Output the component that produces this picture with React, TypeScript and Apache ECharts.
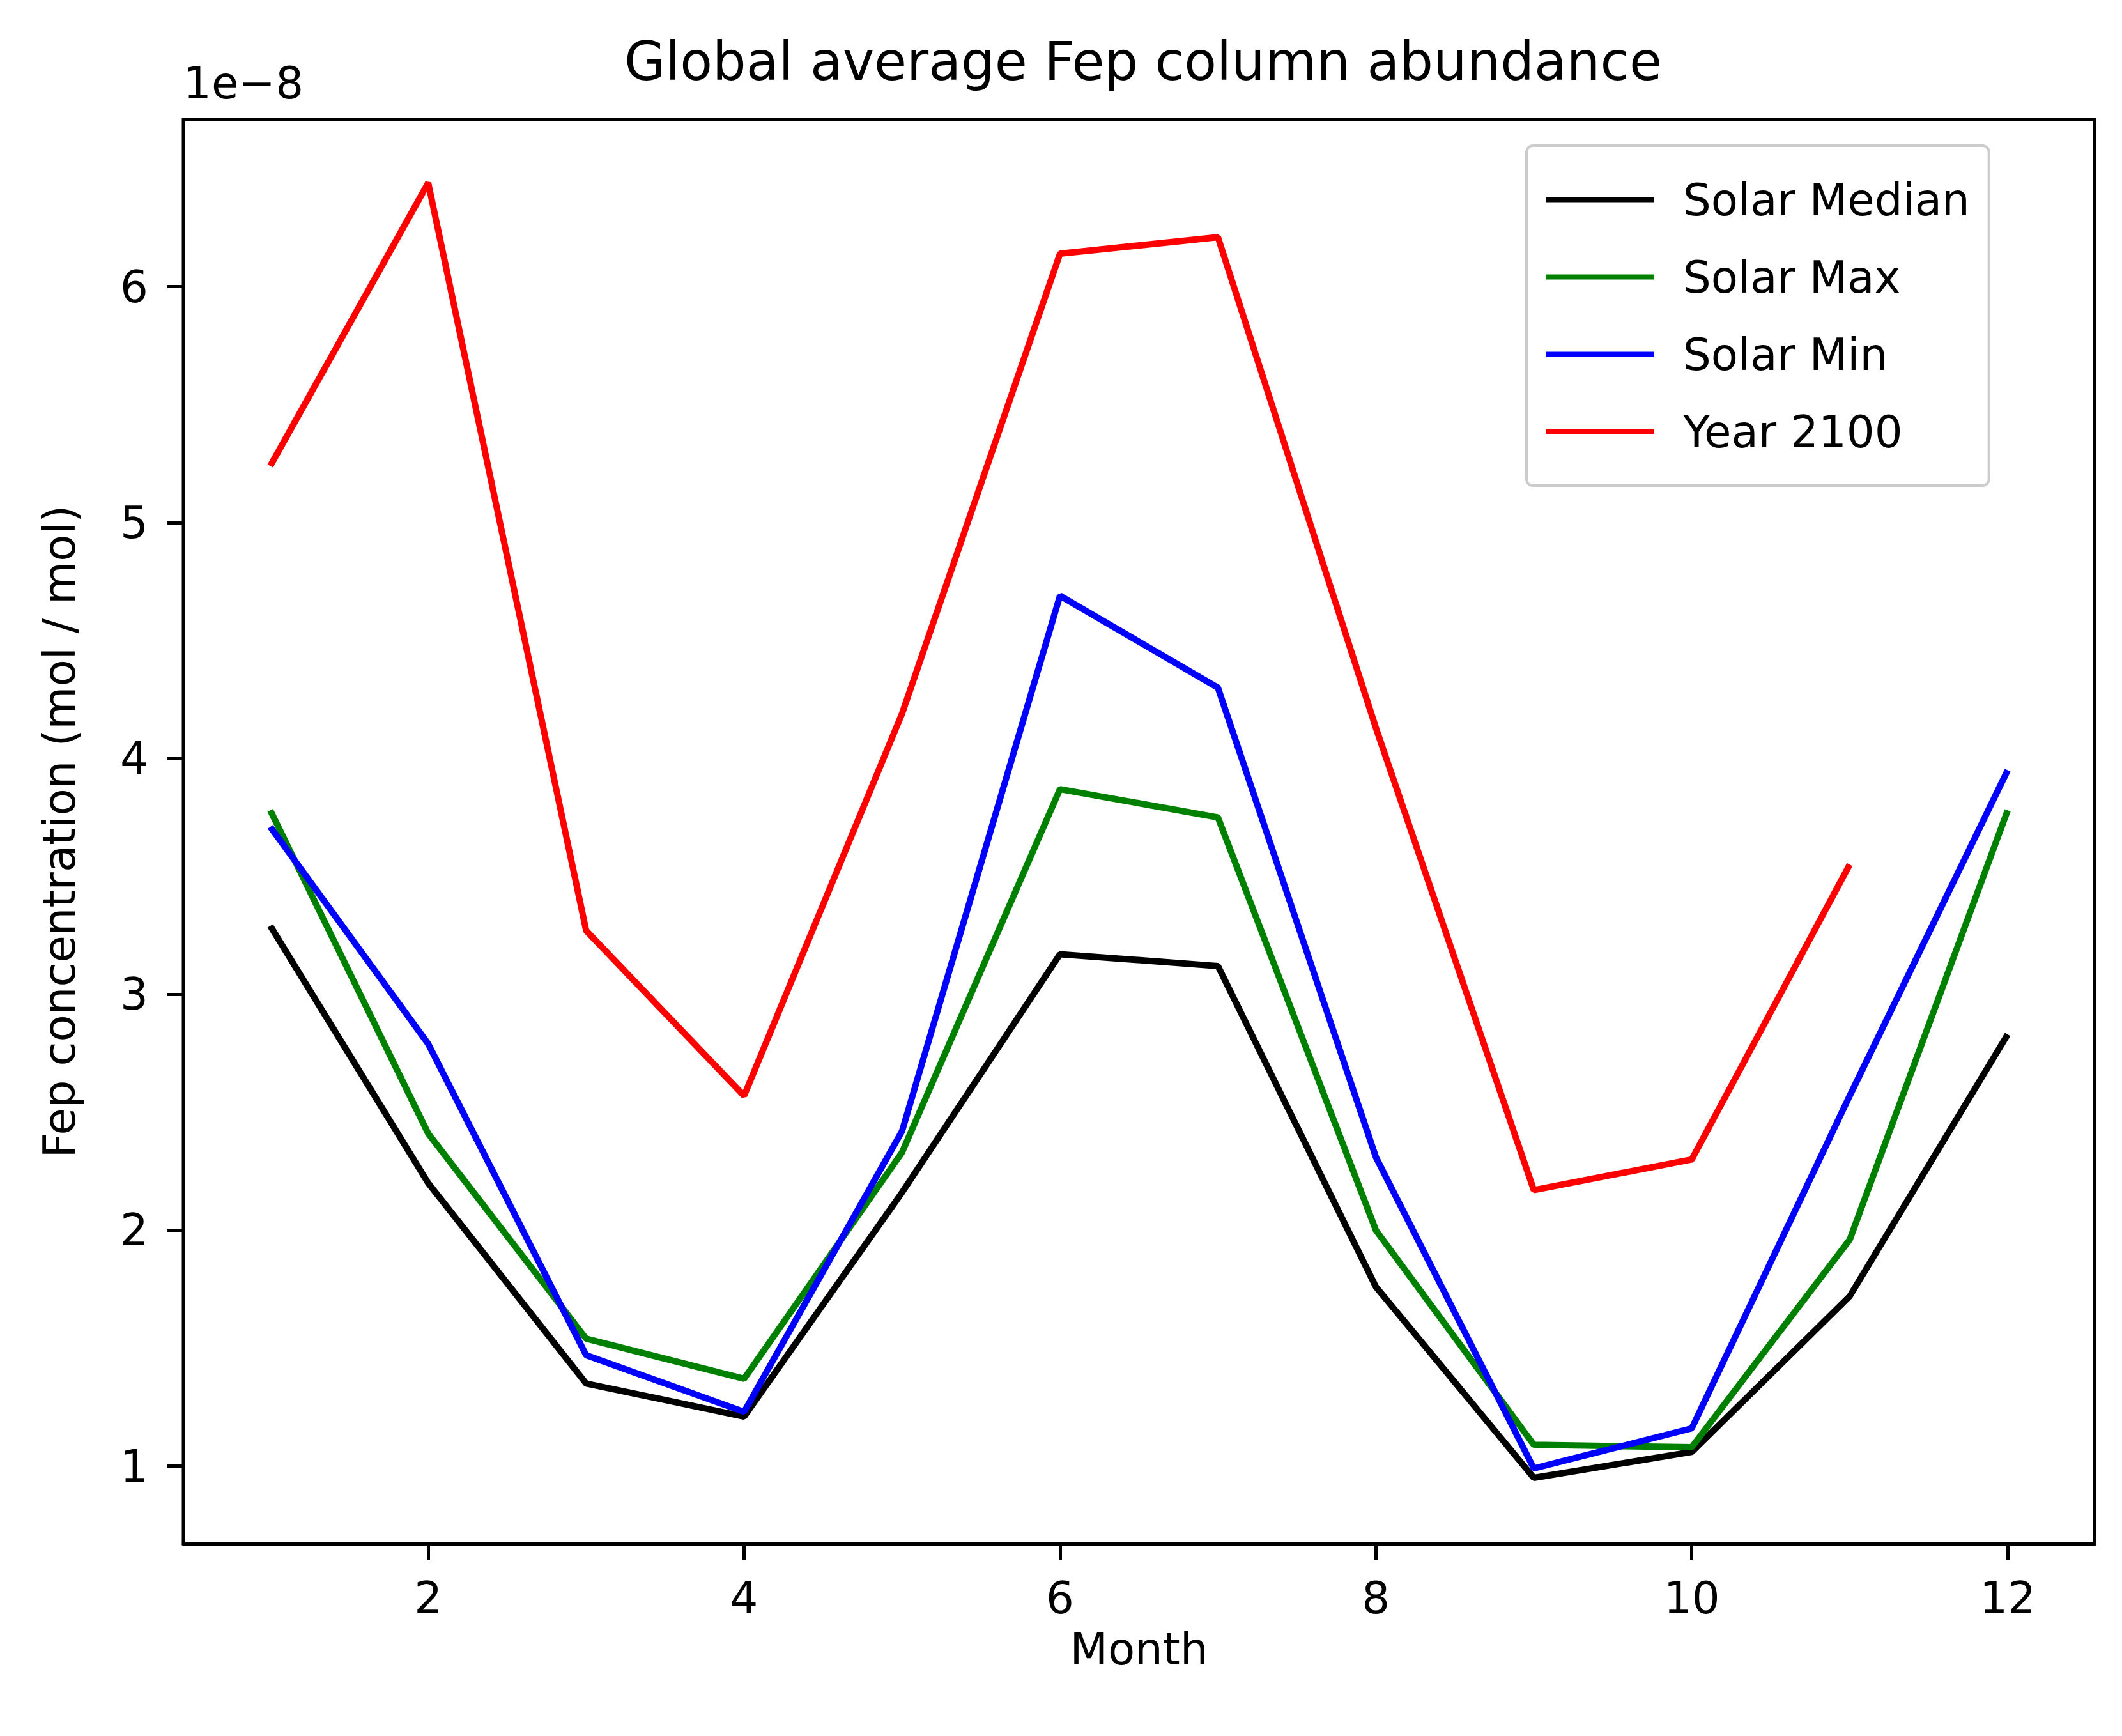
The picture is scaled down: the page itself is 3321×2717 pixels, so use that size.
import React, { useEffect, useRef } from "react";
import * as echarts from "echarts";

const months = [1, 2, 3, 4, 5, 6, 7, 8, 9, 10, 11, 12];
const solarMedian = [3.29, 2.2, 1.35, 1.21, 2.16, 3.17, 3.12, 1.76, 0.95, 1.06, 1.72, 2.83];
const solarMax = [3.78, 2.41, 1.54, 1.37, 2.33, 3.87, 3.75, 2.0, 1.09, 1.08, 1.96, 3.78];
const solarMin = [3.71, 2.79, 1.47, 1.23, 2.42, 4.69, 4.3, 2.31, 0.99, 1.16, 2.57, 3.95];
const year2100 = [5.24, 6.44, 3.27, 2.57, 4.19, 6.14, 6.21, 4.13, 2.17, 2.3, 3.55, null];
const xTicks = [2, 4, 6, 8, 10, 12];
const yTicks = [1, 2, 3, 4, 5, 6];

const font = "DejaVu Sans";

const App: React.FC = () => {
  const chartRef = useRef<HTMLDivElement>(null);

  useEffect(() => {
    document.body.style.margin = "0";
    if (!chartRef.current) return;
    const chart = echarts.init(chartRef.current, undefined, { renderer: "svg" });

    const mk = (name: string, vals: (number | null)[], color: string) => ({
      name,
      type: "line",
      data: months.map((m, i) => [m, vals[i]]),
      showSymbol: false,
      symbol: "none",
      lineStyle: { color, width: 10 },
      itemStyle: { color },
      connectNulls: false,
    });

    chart.setOption({
      animation: false,
      backgroundColor: "#fff",
      textStyle: { fontFamily: font },
      title: {
        text: "Global average Fep column abundance",
        left: 1784,
        top: 50,
        textAlign: "center",
        textStyle: { fontFamily: font, fontSize: 83, fontWeight: "normal", color: "#000" },
      },
      graphic: [
        {
          type: "text",
          left: 287,
          top: 95,
          style: { text: "1e\u22128", fontFamily: font, fontSize: 69, fill: "#000" },
        },
      ],
      grid: {
        left: 287,
        top: 187,
        width: 2991,
        height: 2229,
        show: true,
        borderColor: "#000",
        borderWidth: 5,
        containLabel: false,
      },
      legend: {
        orient: "vertical",
        left: 2389,
        top: 228,
        width: 847,
        padding: [50, 30, 50, 30],
        itemWidth: 170,
        itemHeight: 8,
        itemGap: 52,
        icon: "rect",
        borderColor: "#ccc",
        borderWidth: 4,
        borderRadius: 10,
        backgroundColor: "#fff",
        textStyle: { fontFamily: font, fontSize: 69, color: "#000", padding: [0, 0, 0, 40] },
        data: ["Solar Median", "Solar Max", "Solar Min", "Year 2100"],
      },
      xAxis: {
        type: "value",
        min: 0.45,
        max: 12.55,
        name: "Month",
        nameLocation: "middle",
        nameGap: 130,
        nameTextStyle: { fontFamily: font, fontSize: 69, color: "#000" },
        splitLine: { show: false },
        axisLine: { show: true, lineStyle: { color: "#000", width: 5 } },
        axisTick: { show: true, length: 25, lineStyle: { color: "#000", width: 5 }, customValues: xTicks },
        axisLabel: { margin: 50, fontFamily: font, fontSize: 69, color: "#000", customValues: xTicks },
      },
      yAxis: {
        type: "value",
        min: 0.671,
        max: 6.709,
        name: "Fep concentration (mol / mol)",
        nameLocation: "middle",
        nameGap: 160,
        nameTextStyle: { fontFamily: font, fontSize: 69, color: "#000" },
        splitLine: { show: false },
        axisLine: { show: true, lineStyle: { color: "#000", width: 5 } },
        axisTick: { show: true, length: 25, lineStyle: { color: "#000", width: 5 }, customValues: yTicks },
        axisLabel: { margin: 55, fontFamily: font, fontSize: 69, color: "#000", customValues: yTicks },
      },
      series: [
        mk("Solar Median", solarMedian, "#000000"),
        mk("Solar Max", solarMax, "#008000"),
        mk("Solar Min", solarMin, "#0000ff"),
        mk("Year 2100", year2100, "#ff0000"),
      ],
    });

    return () => chart.dispose();
  }, []);

  return <div ref={chartRef} style={{ width: 3321, height: 2717 }} />;
};

export default App;
